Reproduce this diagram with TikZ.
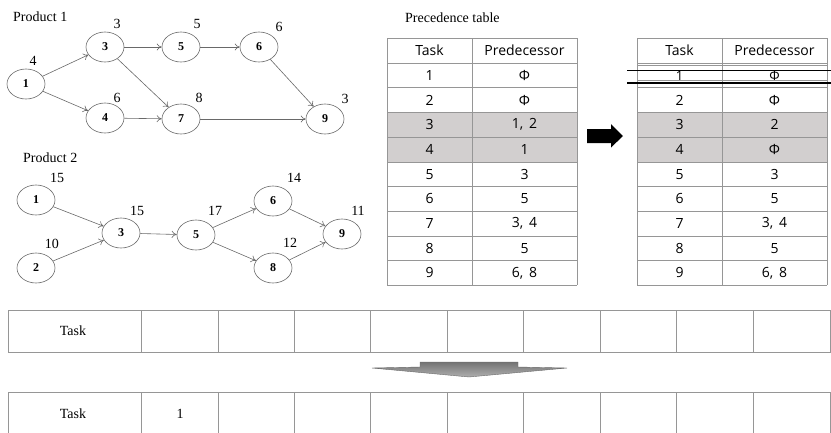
\documentclass[tikz,border=0pt]{standalone}
\usepackage{fontspec}
\setmainfont{Liberation Serif}
\newfontfamily\tabfont{Open Sans}
\usetikzlibrary{arrows.meta,shapes.geometric}
\definecolor{edgec}{RGB}{105,105,105}
\definecolor{gridc}{RGB}{150,150,150}
\definecolor{shadec}{RGB}{210,207,207}
\definecolor{arrtop}{RGB}{115,115,115}
\definecolor{arrbot}{RGB}{175,175,175}
\begin{document}
\begin{tikzpicture}[x=1pt,y=-1pt,
  tnode/.style={ellipse,draw=edgec,line width=0.6pt,minimum width=38pt,minimum height=30pt,inner sep=0pt,font=\fontsize{12}{12}\selectfont\bfseries},
  wlabel/.style={font=\fontsize{14}{14}\selectfont,inner sep=0pt},
  edge/.style={draw=edgec,line width=0.6pt,-{To[length=5pt,width=7pt]}},
  ttext/.style={font=\tabfont\fontsize{14}{14}\selectfont,inner sep=0pt},
  grid/.style={draw=gridc,line width=0.8pt},
  strike/.style={draw=black,line width=1.1pt},
  title/.style={font=\fontsize{14}{14}\selectfont,inner sep=0pt,anchor=west},
]
\useasboundingbox (0,0) rectangle (831,432);
\clip (0,0) rectangle (831,432);

% ---------------- Product 1 ----------------
\node[title] (p1title) at (13,17) {Product 1};
\node[tnode] (a1) at (26,84) {1};
\node[tnode] (a3) at (105,47) {3};
\node[tnode] (a5) at (181,47) {5};
\node[tnode] (a6) at (259,47) {6};
\node[tnode] (a4) at (105,118) {4};
\node[tnode] (a7) at (181,119) {7};
\node[tnode] (a9) at (325,119) {9};
\node[wlabel] (wa1) at (33,61) {4};
\node[wlabel] (wa3) at (117,24) {3};
\node[wlabel] (wa5) at (197,24) {5};
\node[wlabel] (wa6) at (279,27) {6};
\node[wlabel] (wa4) at (117,98) {6};
\node[wlabel] (wa7) at (199,98) {8};
\node[wlabel] (wa9) at (345,99) {3};
\draw[edge] (a1) -- (a3);
\draw[edge] (a1) -- (a4);
\draw[edge] (a3) -- (a5);
\draw[edge] (a5) -- (a6);
\draw[edge] (a3) -- (a7);
\draw[edge] (a4) -- (a7);
\draw[edge] (a6) -- (a9);
\draw[edge] (a7) -- (a9);

% ---------------- Product 2 ----------------
\node[title] (p2title) at (23,158) {Product 2};
\node[tnode] (b1) at (36,200) {1};
\node[tnode] (b2) at (36,268) {2};
\node[tnode] (b3) at (121,233) {3};
\node[tnode] (b5) at (196,235) {5};
\node[tnode] (b6) at (273,201) {6};
\node[tnode] (b8) at (273,268) {8};
\node[tnode] (b9) at (342,234) {9};
\node[wlabel] (wb1) at (57,178) {15};
\node[wlabel] (wb2) at (52,244) {10};
\node[wlabel] (wb3) at (137,211) {15};
\node[wlabel] (wb5) at (215,211) {17};
\node[wlabel] (wb6) at (294,178) {14};
\node[wlabel] (wb8) at (290,243) {12};
\node[wlabel] (wb9) at (358,211) {11};
\draw[edge] (b1) -- (b3);
\draw[edge] (b2) -- (b3);
\draw[edge] (b3) -- (b5);
\draw[edge] (b5) -- (b6);
\draw[edge] (b5) -- (b8);
\draw[edge] (b6) -- (b9);
\draw[edge] (b8) -- (b9);

% ---------------- Precedence tables ----------------
\node[title] (ptitle) at (405,18) {Precedence table};

% left table
\fill[shadec] (387,112) rectangle (577,162);
\foreach \yy in {38,63,87.5,112,137,162,186.5,211,236,260.5,285}
  \draw[grid] (387,\yy) -- (577,\yy);
\foreach \xx in {387,472,577}
  \draw[grid] (\xx,38) -- (\xx,285);
\node[ttext] (lth1) at (429.5,50.5) {Task};
\node[ttext] (lth2) at (524.5,50.5) {Predecessor};
\foreach \k/\p in {1/Φ,2/Φ,3/{1,\ \,2},4/1,5/3,6/5,7/{3,\ \,4},8/5,9/{6,\ \,8}}{
  \node[ttext] (ltt\k) at (429.5,{63+24.7*(\k-0.5)}) {\k};
  \node[ttext] (ltp\k) at (524.5,{63+24.7*(\k-0.5)}) {\p};
}

% black arrow between tables
\fill[black] (587,129) -- (611,129) -- (611,124) -- (623,136) -- (611,147.5) -- (611,143) -- (587,143) -- cycle;

% right table
\fill[shadec] (637,112) rectangle (827,162);
\foreach \yy in {38,63,65,80,87.5,112,137,162,186.5,211,236,260.5,285}
  \draw[grid] (637,\yy) -- (827,\yy);
\foreach \xx in {637,722,827}
  \draw[grid] (\xx,38) -- (\xx,285);
\node[ttext] (rth1) at (679.5,50.5) {Task};
\node[ttext] (rth2) at (774.5,50.5) {Predecessor};
\begin{scope}
  \clip (637,66) rectangle (827,80);
  \node[ttext,font=\tabfont\fontsize{13}{13}\selectfont] (rtt1) at (679.5,76) {1};
  \node[ttext,font=\tabfont\fontsize{13}{13}\selectfont] (rtp1) at (774.5,76) {Φ};
\end{scope}
\draw[grid] (637,80) -- (827,80);
\foreach \k/\p in {2/Φ,3/2,4/Φ,5/3,6/5,7/{3,\ \,4},8/5,9/{6,\ \,8}}{
  \node[ttext] (rtt\k) at (679.5,{63+24.7*(\k-0.5)}) {\k};
  \node[ttext] (rtp\k) at (774.5,{63+24.7*(\k-0.5)}) {\p};
}
\draw[strike] (627,70.5) -- (831,70.5);
\draw[strike] (627,83) -- (831,83);

% ---------------- Task strips ----------------
\draw[grid] (8,310) rectangle (830,352);
\foreach \xx in {141,218,294,370,447,523,600,676,753}
  \draw[grid] (\xx,310) -- (\xx,352);
\node[wlabel] (s1task) at (73,331) {Task};

\shade[top color=arrtop,bottom color=arrbot,draw=edgec,line width=0.4pt]
  (420,362) -- (518,362) -- (518,367) -- (567,368) -- (469,377) -- (372,368) -- (420,367) -- cycle;

\draw[grid] (8,445) -- (8,392) -- (830,392) -- (830,445);
\foreach \xx in {141,218,294,370,447,523,600,676,753}
  \draw[grid] (\xx,392) -- (\xx,445);
\node[wlabel] (s2task) at (73,414) {Task};
\node[wlabel] (s2one) at (180,414) {1};
\end{tikzpicture}
\end{document}
